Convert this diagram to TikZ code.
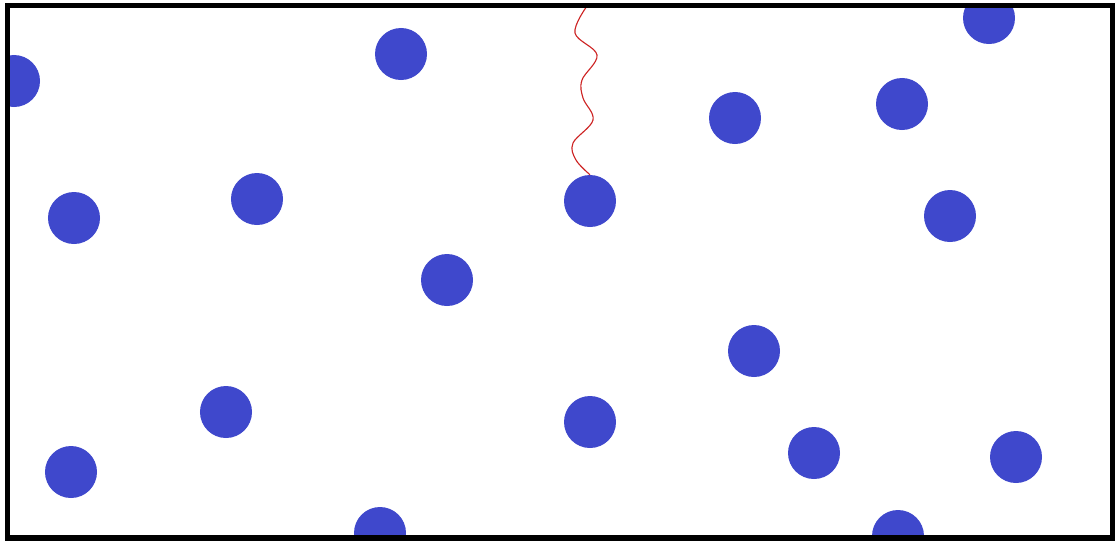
\documentclass[tikz,border=0pt]{standalone}
\usepackage{xcolor}
\usepackage{tikz}
\usetikzlibrary{positioning}

\definecolor{dotblue}{RGB}{63,72,204}
\definecolor{wirered}{RGB}{205,35,35}

\begin{document}
\begin{tikzpicture}[
  x=0.025cm, y=-0.025cm,
  dot/.style={circle, fill=dotblue, draw=none, minimum size=1.3cm, inner sep=0pt},
  wire/.style={draw=wirered, line width=0.8pt},
  frame/.style={draw=black, line width=3.6pt}
]
\useasboundingbox (0,0) rectangle (1116,541);
\begin{scope}
\clip (7.5,5.5) rectangle (1112.5,538);
\node[dot] (d1) at (14,81) {};
\node[dot] (d2) at (401,54) {};
\node[dot] (d3) at (989,18) {};
\node[dot] (d4) at (735,118) {};
\node[dot] (d5) at (902,104) {};
\node[dot] (d6) at (74,218) {};
\node[dot] (d7) at (257,199) {};
\node[dot] (d8) at (590,201) {};
\node[dot] (d9) at (950,216) {};
\node[dot] (d10) at (447,280) {};
\node[dot] (d11) at (754,351) {};
\node[dot] (d12) at (226,412) {};
\node[dot] (d13) at (590,422) {};
\node[dot] (d14) at (71,472) {};
\node[dot] (d15) at (814,453) {};
\node[dot] (d16) at (1016,457) {};
\node[dot] (d17) at (380,533) {};
\node[dot] (d18) at (898,536) {};
\end{scope}
\coordinate (top) at (587,6);
\draw[wire] plot[smooth, tension=0.6] coordinates {(top) (575,33) (597,55) (582,80) (583,98) (593,120) (573,143) (576,160) (d8.north)};
\draw[frame] (7.5,5.5) rectangle (1112.5,538);
\end{tikzpicture}
\end{document}
